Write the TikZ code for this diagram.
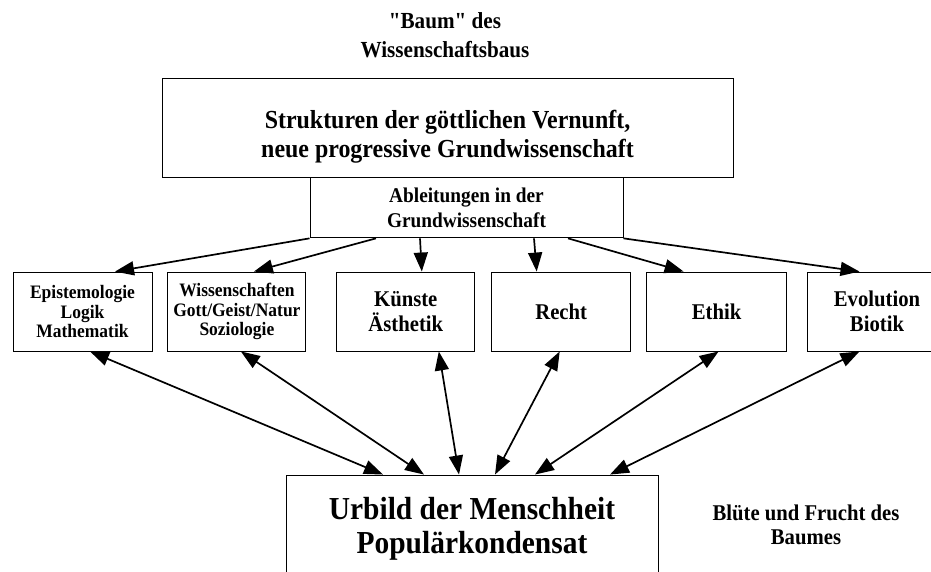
\documentclass[tikz,border=0pt]{standalone}
\usepackage{fontspec}
\setmainfont{Liberation Serif}[Ligatures=TeXOff, FakeStretch=0.92]
\usetikzlibrary{positioning,arrows.meta}

\tikzset{
	kasten/.style={draw, line width=0.9pt, inner sep=0pt, align=center},
	zeile/.style={kasten, minimum width=139pt, minimum height=79pt},
	pfeil/.style={-{Triangle[length=19pt,width=14pt]}, line width=1.7pt},
	doppel/.style={{Triangle[length=19pt,width=14pt]}-{Triangle[length=19pt,width=14pt]}, line width=1.7pt},
	klein/.style={font=\bfseries\fontsize{19}{19.5}\selectfont},
	mittel/.style={font=\bfseries\fontsize{22.5}{24.5}\selectfont},
}

\begin{document}
\begin{tikzpicture}[x=1pt,y=1pt]
	\useasboundingbox (0,0) rectangle (931,-572);
	
	\node[font=\bfseries\fontsize{23}{29}\selectfont, align=center, inner sep=0pt] (titel) at (445,-34.7) {"Baum" des\\Wissenschaftsbaus};
	
	\node[kasten, minimum width=571pt, minimum height=99pt] (grund) at (447.5,-127.5) {};
	\node[font=\bfseries\fontsize{26}{29}\selectfont, align=center, inner sep=0pt] (grundtext)
		at ([yshift=-9pt]grund.center) {Strukturen der göttlichen Vernunft,\\neue progressive Grundwissenschaft};
	\node[kasten, minimum width=313pt, minimum height=60pt, below=0pt of grund, xshift=19pt,
		font=\bfseries\fontsize{21}{25}\selectfont] (abl)
		{Ableitungen in der\\Grundwissenschaft};
	
	\node[zeile, klein] (epi) at (82.5,-311.5) {Epistemologie\\Logik\\Mathematik};
	\node[zeile, klein, right=15pt of epi, minimum width=138pt] (wiss) {Wissenschaften\\Gott/Geist/Natur\\Soziologie};
	\node[zeile, mittel, right=30pt of wiss, minimum width=138pt] (kunst) {Künste\\Ästhetik};
	\node[zeile, mittel, right=16pt of kunst] (recht) {Recht};
	\node[zeile, mittel, right=15pt of recht, minimum width=140pt] (ethik) {Ethik};
	\node[zeile, mittel, right=20pt of ethik] (evo) {Evolution\\Biotik};
	
	\node[kasten, minimum width=372pt, minimum height=107pt,
		font=\bfseries\fontsize{32}{34}\selectfont] (urbild) at (472,-528.5)
		{Urbild der Menschheit\\Populärkondensat};
	\node[mittel, align=center] (bluete) at (806,-525) {Blüte und Frucht des\\Baumes};
	
	\draw[pfeil] (abl.south west) -- ([xshift=32.5pt]epi.north);
	\draw[pfeil] ([xshift=-90.5pt]abl.south) -- ([xshift=17pt]wiss.north);
	\draw[pfeil] ([xshift=-46.5pt]abl.south) -- ([xshift=16pt]kunst.north);
	\draw[pfeil] ([xshift=67.5pt]abl.south) -- ([xshift=-24.5pt]recht.north);
	\draw[pfeil] ([xshift=101.5pt]abl.south) -- ([xshift=-33pt]ethik.north);
	\draw[pfeil] (abl.south east) -- ([xshift=-17.5pt]evo.north);
	
	\draw[doppel] ([xshift=7.5pt]epi.south) -- ([xshift=-89pt]urbild.north);
	\draw[doppel] ([xshift=4pt]wiss.south) -- ([xshift=-48pt]urbild.north);
	\draw[doppel] ([xshift=33pt]kunst.south) -- ([xshift=-13pt]urbild.north);
	\draw[doppel] ([xshift=-1.5pt]recht.south) -- ([xshift=23pt]urbild.north);
	\draw[doppel] ([xshift=2pt]ethik.south) -- ([xshift=63pt]urbild.north);
	\draw[doppel] ([xshift=-17.5pt]evo.south) -- ([xshift=138pt]urbild.north);
\end{tikzpicture}
\end{document}
